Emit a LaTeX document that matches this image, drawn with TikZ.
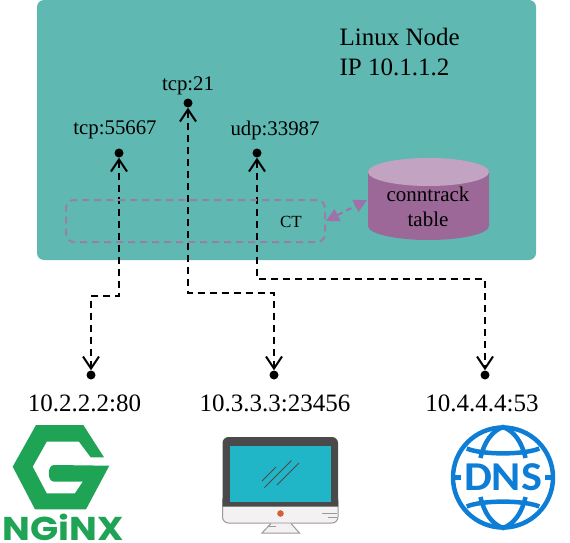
\documentclass[tikz,border=0pt]{standalone}
\usepackage{fontspec}
\setmainfont{Liberation Serif}
\newfontfamily\logofont{Poppins}
\newfontfamily\dnsfont{Carlito}
\usetikzlibrary{arrows.meta}
\definecolor{nodeteal}{HTML}{5FB8B1}
\definecolor{ctpurple}{HTML}{9A7FA5}
\definecolor{ctarrow}{HTML}{A070A8}
\definecolor{tablebody}{HTML}{9C6898}
\definecolor{tabletop}{HTML}{C2A4C2}
\definecolor{nginxgreen}{HTML}{1FA355}
\definecolor{dnsblue}{HTML}{0E7DD5}
\definecolor{bezel}{HTML}{4A4A4A}
\definecolor{screenblue}{HTML}{21B5C8}
\definecolor{chinline}{HTML}{9A9A9A}
\definecolor{chinfill}{HTML}{F3F1F1}
\definecolor{powerdot}{HTML}{D2603A}
\tikzset{
  port/.style={circle, fill=black, inner sep=0, minimum size=9},
  link/.style={line width=2, dash pattern=on 7 off 5,
    {Straight Barb[length=12,width=16,line width=2]}-{Straight Barb[length=12,width=16,line width=2]}},
  portlabel/.style={font=\fontsize{20.8}{24}\selectfont},
  hostlabel/.style={font=\fontsize{25}{28}\selectfont},
  dnsline/.style={draw=dnsblue, line width=4.5}
}
\begin{document}
\begin{tikzpicture}[x=1pt, y=-1pt]
  \useasboundingbox (0,0) rectangle (570,543);
  % linux node
  \fill[nodeteal, rounded corners=7] (37,0) rectangle (536,260);
  \node[anchor=west, align=left, font=\fontsize{25}{30}\selectfont] (nodeinfo) at (336,52) {Linux Node\\IP 10.1.1.2};
  % ports and hosts
  \node[port] (portA) at (119,153) {};
  \node[port] (portB) at (188,103) {};
  \node[port] (portC) at (257,153) {};
  \node[port] (hostA) at (91,375) {};
  \node[port] (hostB) at (274,375) {};
  \node[port] (hostC) at (485,375) {};
  \node[portlabel] (labelA) at (115,130) {tcp:55667};
  \node[portlabel] (labelB) at (188,86) {tcp:21};
  \node[portlabel] (labelC) at (275,130) {udp:33987};
  \node[hostlabel] (ipA) at (84.5,403) {10.2.2.2:80};
  \node[hostlabel] (ipB) at (275,403) {10.3.3.3:23456};
  \node[hostlabel] (ipC) at (482,403) {10.4.4.4:53};
  \coordinate (bendA) at (91,296);
  \coordinate (bendB) at (274,293);
  \coordinate (bendC) at (485,279);
  \draw[link] (portA) |- (bendA) -- (hostA);
  \draw[link] (portB) |- (bendB) -- (hostB);
  \draw[link] (portC) |- (bendC) -- (hostC);
  % conntrack
  \node[draw=ctpurple, line width=2, dash pattern=on 7 off 5, rounded corners=8,
    minimum width=259, minimum height=42] (ctbox) at (195.5,221) {};
  \node[font=\fontsize{17}{18}\selectfont] (ctlabel) at (291,222) {CT};
  \fill[tablebody] (368,172) -- (368,226) arc[start angle=180, end angle=0, x radius=60.5, y radius=14] -- (489,172) -- cycle;
  \fill[tabletop] (428.5,172) ellipse[x radius=60.5, y radius=14];
  \node[align=center, font=\fontsize{21}{25}\selectfont] (conntrack) at (428,207) {conntrack\\table};
  \coordinate (tableside) at (367,200);
  \draw[ctarrow, line width=2, dash pattern=on 6 off 4,
    {Triangle[length=13,width=13]}-{Triangle[length=13,width=13]}] (ctbox.east) -- (tableside);
  % nginx logo
  \fill[nginxgreen] (36,425) -- (83.3,425) -- (104,457.3) -- (90.7,457.3) -- (79,441.7)
    -- (46.7,441.7) -- (32.7,466.7) -- (46.7,493.3) -- (75,493.3) -- (82.7,481.7)
    -- (54,481.7) .. controls (47,481.7) and (47,465) .. (54,465) -- (109.3,465.7)
    -- (86,509.3) -- (35,509.3) -- (12.7,466.7) -- cycle;
  \node[font=\logofont\bfseries\fontsize{33}{34}\selectfont, text=nginxgreen, inner sep=0, xscale=1.12] (nginxname) at (63,527.5) {NGiNX};
  % monitor
  \filldraw[fill=chinfill, draw=chinline, line width=1, rounded corners=6] (222.5,495) -- (222.5,523) -- (338,523) -- (338,495) -- cycle;
  \fill[bezel] (222.5,506.5) [rounded corners=6] -- (222.5,437) -- (338,437) [sharp corners] -- (338,506.5) -- cycle;
  \fill[screenblue] (230,445.5) rectangle (331,501.5);
  \draw[bezel, line width=.8] (262,481) -- (276,467);
  \draw[bezel, line width=.8] (264.5,487.5) -- (291.5,460.5);
  \draw[bezel, line width=.8] (277,485) -- (299,463);
  \fill[powerdot] (280.5,513.5) circle (3.3);
  \draw[chinline, line width=1] (322,513) -- (337,513) (328,517.5) -- (337,517.5);
  \draw[chinline, line width=1, fill=chinfill] (271,523.5) -- (262,533) -- (299.5,533) -- (291,523.5);
  \draw[chinline, line width=1] (269,526.5) -- (276,526.5);
  % dns globe
  \draw[dnsline] (503,477.5) circle (50);
  \draw[dnsline] (466.7,448.5) .. controls (482,455) and (524,455) .. (539.3,448.5);
  \draw[dnsline] (466.7,506.5) .. controls (482,500) and (524,500) .. (539.3,506.5);
  \draw[dnsline] (480.5,458) .. controls (484,442) and (492,431) .. (503,427) .. controls (514,431) and (522,442) .. (525.5,458);
  \draw[dnsline] (480.5,497) .. controls (484,513) and (492,524) .. (503,528) .. controls (514,524) and (522,513) .. (525.5,497);
  \draw[dnsline] (454,477.5) -- (461,477.5) (545,477.5) -- (552,477.5);
  \node[font=\dnsfont\bfseries\fontsize{41}{42}\selectfont, text=dnsblue, inner sep=0, xscale=1.08] (dnsname) at (503,477.5) {DNS};
\end{tikzpicture}
\end{document}
